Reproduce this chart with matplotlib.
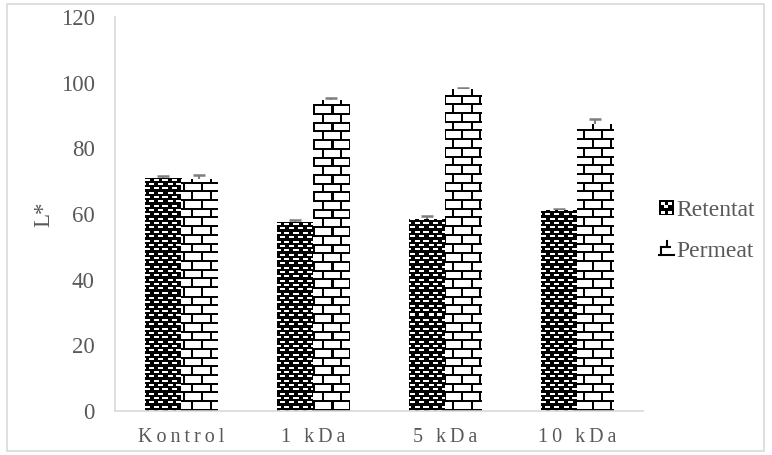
import numpy as np
import matplotlib
matplotlib.use("Agg")
import matplotlib.pyplot as plt
from matplotlib.patches import Rectangle
from matplotlib.lines import Line2D
from matplotlib.legend_handler import HandlerBase

categories = ["Kontrol", "1 kDa", "5 kDa", "10 kDa"]
tick_labels = ["K\u2009o\u2009n\u2009t\u2009r\u2009o\u2009l", "1\u2009 \u2009k\u2009D\u2009a",
               "5\u2009 \u2009k\u2009D\u2009a", "1\u20090\u2009 \u2009k\u2009D\u2009a"]
retentat = [70.8, 57.5, 58.2, 61.0]
retentat_err = [0.9, 0.7, 1.2, 0.4]
permeat = [70.5, 94.6, 97.8, 87.2]
permeat_err = [1.3, 0.6, 0.6, 1.6]
series_names = ["Retentat", "Permeat"]

FONT = ["Liberation Serif", "DejaVu Serif"]
plt.rcParams["font.family"] = FONT
TXT = "#595959"
GRID = "#d9d9d9"

W, H = 772, 455
fig = plt.figure(figsize=(W / 100, H / 100), dpi=100)
ax = fig.add_axes([115 / W, 44 / H, 528 / W, 394 / H])

x = np.arange(len(categories))
bw = 0.276
bars_r = ax.bar(x - bw / 2, retentat, bw, color="black", linewidth=0, zorder=1)
bars_p = ax.bar(x + bw / 2, permeat, bw, color="white", linewidth=0, zorder=1)
ax.errorbar(x - bw / 2, retentat, yerr=retentat_err, fmt="none", ecolor="#7f7f7f",
            elinewidth=1.5, capsize=4.3, capthick=1.8, zorder=1.5)
ax.errorbar(x + bw / 2, permeat, yerr=permeat_err, fmt="none", ecolor="#7f7f7f",
            elinewidth=1.5, capsize=4.3, capthick=1.8, zorder=1.5)

ax.set_xlim(-0.5, len(categories) - 0.5)
ax.set_ylim(0, 120)
ax.set_yticks(np.arange(0, 121, 20))
ax.set_xticks(x)
ax.set_xticklabels(tick_labels, fontsize=14.5, color=TXT)
ax.tick_params(axis="y", labelsize=16.5, colors=TXT, length=0, pad=14.5)
ax.tick_params(axis="x", length=0, pad=12)
for s in ["top", "right"]:
    ax.spines[s].set_visible(False)
for s in ["left", "bottom"]:
    ax.spines[s].set_color(GRID)
    ax.spines[s].set_linewidth(1.2)
ax.set_ylabel("L*", fontsize=16.5, color=TXT, labelpad=5)

# textures
def brick(xx, yy):
    ph = 8.7
    row = np.floor(yy / ph)
    hline = (yy % ph) < 2.0
    off = (row % 2) * 8.7
    vline = ((xx + off) % 17.4) < 2.0
    black = hline | vline
    return np.where(black, 0.0, 1.0)

def dots(xx, yy):
    ph = 4.35
    row = np.floor(yy / ph)
    ry = yy % ph
    off = (row % 2) * 4.35
    rx = (xx + off) % 8.7
    white = (ry >= 1.3) & (ry < 3.3) & (rx >= 1.5) & (rx < 6.5)
    return np.where(white, 1.0, 0.0)

fig.canvas.draw()
def texture(bars, func):
    for b in bars:
        bb = b.get_window_extent()
        x0p, x1p = int(round(bb.x0)), int(round(bb.x1))
        y0p, y1p = int(round(bb.y0)), int(round(bb.y1))
        wpx, hpx = max(x1p - x0p, 1), max(y1p - y0p, 1)
        xs = x0p + np.arange(wpx) + 0.5
        ys_down = (H - y1p) + np.arange(hpx) + 0.5
        XX, YY = np.meshgrid(xs, ys_down)
        v = func(XX, YY)
        img = np.dstack([v, v, v])
        ax.imshow(img, extent=(b.get_x(), b.get_x() + b.get_width(), 0, b.get_height()),
                  origin="upper", interpolation="nearest", aspect="auto", zorder=2)

texture(bars_r, dots)
texture(bars_p, brick)
ax.set_xlim(-0.5, len(categories) - 0.5)
ax.set_ylim(0, 120)

class RetHandler(HandlerBase):
    def create_artists(self, legend, orig_handle, xd, yd, w, h, fontsize, trans):
        arts = [Rectangle((-xd, -yd), w, h, facecolor="black", edgecolor="none", transform=trans)]
        for (fx, fy) in [(0.1, 0.15), (0.6, 0.15), (0.35, 0.55), (0.1, 0.8), (0.6, 0.8)]:
            arts.append(Rectangle((-xd + fx * w, -yd + fy * h - 0.1 * h), 0.28 * w, 0.2 * h,
                                  facecolor="white", edgecolor="none", transform=trans))
        return arts

class PerHandler(HandlerBase):
    def create_artists(self, legend, orig_handle, xd, yd, w, h, fontsize, trans):
        x0, y0 = -xd, -yd
        segs = [([x0, x0 + w], [y0 + 0.05 * h, y0 + 0.05 * h]),
                ([x0 + 0.1 * w, x0 + 0.1 * w], [y0 + 0.05 * h, y0 + 0.6 * h]),
                ([x0 + 0.1 * w, x0 + 0.75 * w], [y0 + 0.6 * h, y0 + 0.6 * h]),
                ([x0 + 0.5 * w, x0 + 0.5 * w], [y0 + 0.6 * h, y0 + 1.0 * h])]
        return [Line2D(xs, ys, color="black", lw=1.5, transform=trans) for xs, ys in segs]

h1 = Rectangle((0, 0), 1, 1)
h2 = Rectangle((0, 0), 1, 1)
leg = fig.legend([h1, h2], series_names, loc="center left",
                 bbox_to_anchor=(650 / W, 1 - 231 / H),
                 frameon=False, fontsize=17, handlelength=0.6, handleheight=0.6,
                 handletextpad=0.1, labelspacing=0.85, borderaxespad=0,
                 handler_map={h1: RetHandler(), h2: PerHandler()})
for t in leg.get_texts():
    t.set_color(TXT)

fig.patches.append(Rectangle((7 / W, 4 / H), 757 / W, 447 / H, transform=fig.transFigure,
                             facecolor="none", edgecolor=GRID, linewidth=1.2))

fig.savefig("out.png", dpi=100)
